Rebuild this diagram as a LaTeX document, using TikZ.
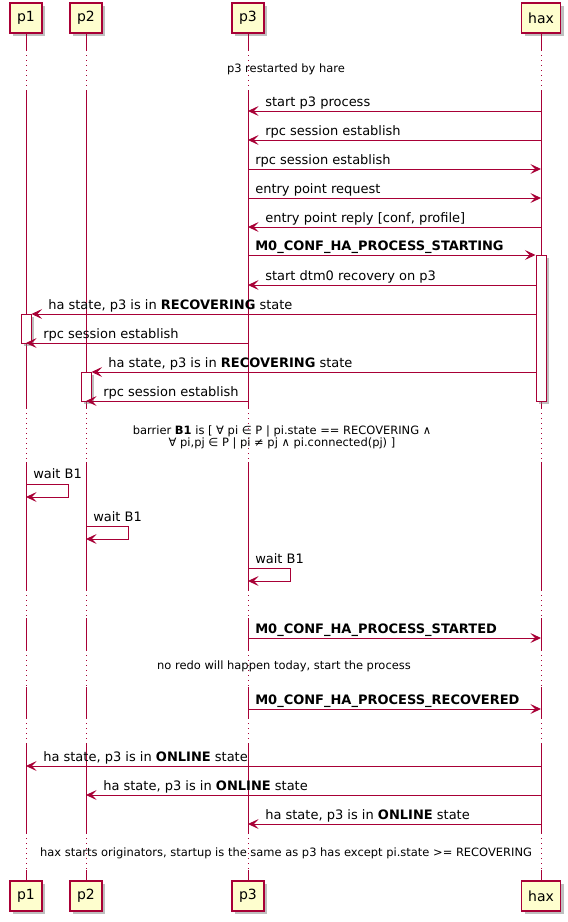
\documentclass[tikz,border=0pt]{standalone}
\usepackage{fontspec}
\setmainfont{DejaVu Sans}
\usepackage{tikz}
\usetikzlibrary{arrows.meta,shadows,fit}
\usepackage{xcolor}
\definecolor{umlred}{HTML}{A80036}
\definecolor{umlfill}{HTML}{FEFECE}

\begin{document}
\begin{tikzpicture}[x=0.75pt, y=-0.75pt,
    participant/.style={rectangle, draw=umlred, fill=umlfill, line width=1.1pt,
        minimum width=24pt, minimum height=22.5pt, inner xsep=5pt,
        font=\fontsize{10.5pt}{12pt}\selectfont,
        drop shadow={shadow xshift=2.5pt, shadow yshift=-2.5pt, fill=black!50, opacity=0.5}},
    activation/.style={rectangle, draw=umlred, fill=white, line width=0.75pt,
        inner xsep=3.75pt, inner ysep=0pt,
        drop shadow={shadow xshift=2.5pt, shadow yshift=-2.5pt, fill=black!50, opacity=0.5}},
    lifeline/.style={umlred, line width=0.75pt},
    delayline/.style={umlred, line width=0.75pt, dash pattern=on 0.75pt off 3pt},
    msg/.style={-{Stealth[length=8pt, width=7.5pt, inset=3.5pt]}, umlred, line width=0.75pt},
    lbl/.style={anchor=base west, inner sep=0pt, font=\fontsize{9.75pt}{11pt}\selectfont},
    delaytxt/.style={align=center, inner sep=0pt, font=\fontsize{8.6pt}{9pt}\selectfont}
]
\useasboundingbox (0,0) rectangle (568,922);

% participants, top and bottom
\node[participant] (p1) at (26,18) {p1};
\node[participant] (p2) at (86,18) {p2};
\node[participant] (p3) at (248,18) {p3};
\node[participant] (hax) at (541,18) {hax};
\node[participant] (p1b) at (26,896) {p1};
\node[participant] (p2b) at (86,896) {p2};
\node[participant] (p3b) at (248,896) {p3};
\node[participant] (haxb) at (541,896) {hax};

% lifelines, dotted where time is skipped
\foreach \p in {p1,p2,p3,hax} {
  \draw[lifeline] (\p.south) -- (\p |- 0,50) (\p |- 0,90) -- (\p |- 0,408)
    (\p |- 0,462) -- (\p |- 0,590) (\p |- 0,618) -- (\p |- 0,650)
    (\p |- 0,687) -- (\p |- 0,718) (\p |- 0,743) -- (\p |- 0,833)
    (\p |- 0,870) -- (\p b.north);
  \draw[delayline] (\p |- 0,50) -- (\p |- 0,90) (\p |- 0,408) -- (\p |- 0,462)
    (\p |- 0,590) -- (\p |- 0,618) (\p |- 0,650) -- (\p |- 0,687)
    (\p |- 0,718) -- (\p |- 0,743) (\p |- 0,833) -- (\p |- 0,870);
}

% activations
\node[activation, fit={(hax |- 0,255) (hax |- 0,401)}] (ah) {};
\node[activation, fit={(p1 |- 0,314) (p1 |- 0,343)}] (a1) {};
\node[activation, fit={(p2 |- 0,372) (p2 |- 0,401)}] (a2) {};

\node[delaytxt] (d1) at (286,69) {p3 restarted by hare};

\node[lbl] (m1) at (265,106) {start p3 process};
\node[lbl] (m2) at (265,135) {rpc session establish};
\node[lbl] (m3) at (255,164) {rpc session establish};
\node[lbl] (m4) at (255,193) {entry point request};
\node[lbl] (m5) at (265,222) {entry point reply [conf, profile]};
\node[lbl] (m6) at (255,250) {\textbf{M0\_CONF\_HA\_PROCESS\_STARTING}};
\node[lbl] (m7) at (265,280) {start dtm0 recovery on p3};
\node[lbl] (m8) at (48,309) {ha state, p3 is in \textbf{RECOVERING} state};
\node[lbl] (m9) at (43,338) {rpc session establish};
\node[lbl] (m10) at (108,367) {ha state, p3 is in \textbf{RECOVERING} state};
\node[lbl] (m11) at (103,396) {rpc session establish};

\draw[msg] (hax |- 0,111) -- (p3 |- 0,111);
\draw[msg] (hax |- 0,140) -- (p3 |- 0,140);
\draw[msg] (p3 |- 0,169) -- (hax |- 0,169);
\draw[msg] (p3 |- 0,198) -- (hax |- 0,198);
\draw[msg] (hax |- 0,227) -- (p3 |- 0,227);
\draw[msg] (p3 |- 0,255) -- (ah.west |- 0,255);
\draw[msg] (ah.west |- 0,285) -- (p3 |- 0,285);
\draw[msg] (ah.west |- 0,314) -- (a1.east |- 0,314);
\draw[msg] (p3 |- 0,343) -- (p1 |- 0,343);
\draw[msg] (ah.west |- 0,372) -- (a2.east |- 0,372);
\draw[msg] (p3 |- 0,401) -- (p2 |- 0,401);

\node[delaytxt] (d2) at (282,437) {barrier \textbf{B1} is [ ∀ pi ∈ P | pi.state == RECOVERING ∧\\∀ pi,pj ∈ P | pi ≠ pj ∧ pi.connected(pj) ]};

% each one waits on the barrier
\node[lbl] (w1) at (33,478) {wait B1};
\node[lbl] (w2) at (93,521) {wait B1};
\node[lbl] (w3) at (255,563) {wait B1};
\draw[msg] (p1 |- 0,484) -- ++(42,0) -- ++(0,13) -- (p1 |- 0,497);
\draw[msg] (p2 |- 0,526) -- ++(42,0) -- ++(0,13) -- (p2 |- 0,539);
\draw[msg] (p3 |- 0,568) -- ++(42,0) -- ++(0,13) -- (p3 |- 0,581);

\node[lbl] (m12) at (255,633) {\textbf{M0\_CONF\_HA\_PROCESS\_STARTED}};
\draw[msg] (p3 |- 0,638) -- (hax |- 0,638);

\node[delaytxt] (d3) at (284,666) {no redo will happen today, start the process};

\node[lbl] (m13) at (255,704) {\textbf{M0\_CONF\_HA\_PROCESS\_RECOVERED}};
\draw[msg] (p3 |- 0,709) -- (hax |- 0,709);

\node[lbl] (m14) at (43,761) {ha state, p3 is in \textbf{ONLINE} state};
\node[lbl] (m15) at (103,790) {ha state, p3 is in \textbf{ONLINE} state};
\node[lbl] (m16) at (265,819) {ha state, p3 is in \textbf{ONLINE} state};
\draw[msg] (hax |- 0,766) -- (p1 |- 0,766);
\draw[msg] (hax |- 0,795) -- (p2 |- 0,795);
\draw[msg] (hax |- 0,824) -- (p3 |- 0,824);

\node[delaytxt] (d4) at (286,853) {hax starts originators, startup is the same as p3 has except pi.state >= RECOVERING};

\end{tikzpicture}
\end{document}
